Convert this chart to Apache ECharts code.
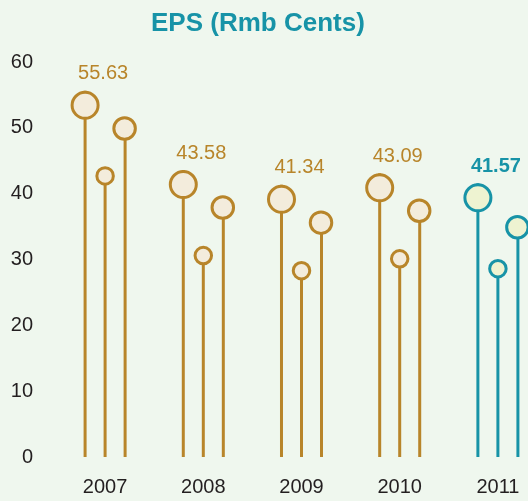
<!DOCTYPE html>
<html>
<head>
<meta charset="utf-8">
<script src="https://cdn.jsdelivr.net/npm/echarts@6/dist/echarts.min.js"></script>
<style>
  html, body { margin: 0; padding: 0; background: #eff7ee; }
  #chart { width: 528px; height: 501px; }
</style>
</head>
<body>
<div id="chart"></div>
<script>
  // years and EPS figures (labels, top of the big circle)
  var years = ['2007', '2008', '2009', '2010', '2011'];
  var eps = [55.63, 43.58, 41.34, 43.09, 41.57];
  // the two smaller lollipops in each group
  var smallVals = [42.7, 30.6, 28.3, 30.1, 28.6];
  var mediumVals = [49.9, 37.9, 35.6, 37.4, 34.9];

  var gold = '#b8852a', goldFill = '#f3ecdc';
  var teal = '#1793a7', tealFill = '#eef3d1';
  var font = 'Liberation Sans, Arial, Helvetica, sans-serif';

  // last year is highlighted in teal
  function lineColor(i) { return i === years.length - 1 ? teal : gold; }
  function fillColor(i) { return i === years.length - 1 ? tealFill : goldFill; }

  function stems(vals) {
    return vals.map(function (v, i) {
      return {value: v, itemStyle: {color: lineColor(i)}};
    });
  }
  function dots(vals) {
    return vals.map(function (v, i) {
      return {value: v, itemStyle: {color: fillColor(i), borderColor: lineColor(i), opacity: 1}};
    });
  }

  var myChart = echarts.init(document.getElementById('chart'));
  myChart.setOption({
    backgroundColor: '#eff7ee',
    animation: false,
    title: {
      text: 'EPS (Rmb Cents)',
      left: 146,
      top: 6,
      textStyle: {color: teal, fontSize: 26, fontWeight: 'bold', fontFamily: font}
    },
    grid: {left: 56, width: 491, top: 62, bottom: 44, outerBoundsMode: 'none', containLabel: false},
    xAxis: {
      type: 'category',
      data: years,
      axisLine: {show: false},
      axisTick: {show: false},
      axisLabel: {color: '#231f20', fontSize: 20, fontFamily: font, margin: 20}
    },
    yAxis: {
      type: 'value',
      min: 0,
      max: 60,
      interval: 10,
      splitLine: {show: false},
      axisLine: {show: false},
      axisTick: {show: false},
      axisLabel: {color: '#231f20', fontSize: 20, fontFamily: font, margin: 23}
    },
    series: [
      // stems
      {type: 'bar', barWidth: 3, barGap: '567%', data: stems(eps), z: 2},
      {type: 'bar', barWidth: 3, barGap: '567%', data: stems(smallVals), z: 2},
      {type: 'bar', barWidth: 3, barGap: '567%', data: stems(mediumVals), z: 2},
      // heads
      {
        type: 'scatter', symbol: 'circle', symbolSize: 26, symbolOffset: [-20, 14.5],
        itemStyle: {borderWidth: 3, opacity: 1}, data: dots(eps), z: 3
      },
      {
        type: 'scatter', symbol: 'circle', symbolSize: 16.5, symbolOffset: [0, 0],
        itemStyle: {borderWidth: 3, opacity: 1}, data: dots(smallVals), z: 3
      },
      {
        type: 'scatter', symbol: 'circle', symbolSize: 21.5, symbolOffset: [19.5, 0],
        itemStyle: {borderWidth: 3, opacity: 1}, data: dots(mediumVals), z: 3
      },
      // EPS value labels
      {
        type: 'scatter', symbolSize: 0, symbolOffset: [-2, 0], z: 4,
        itemStyle: {opacity: 1},
        data: eps.map(function (v, i) {
          var last = i === years.length - 1;
          return {
            value: v,
            label: {
              show: true, position: 'top', distance: 7,
              formatter: v.toFixed(2),
              color: last ? teal : gold,
              fontWeight: last ? 'bold' : 'normal',
              fontSize: 20, fontFamily: font
            }
          };
        })
      }
    ]
  });
</script>
</body>
</html>
